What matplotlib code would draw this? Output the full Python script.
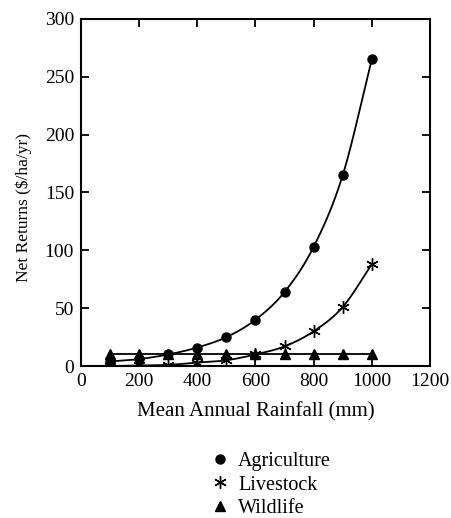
import numpy as np
import matplotlib
matplotlib.use('Agg')
import matplotlib.pyplot as plt

# Values
rainfall = [100, 200, 300, 400, 500, 600, 700, 800, 900, 1000]
agriculture = [4, 6, 10, 16, 25, 40, 64, 103, 165, 265]
livestock = [0, 0.5, 1, 3, 5, 10, 17, 30, 51, 88]
wildlife = [10, 10, 10, 10, 10, 10, 10, 10, 10, 10]

x_ticks = [0, 200, 400, 600, 800, 1000, 1200]
y_ticks = [0, 50, 100, 150, 200, 250, 300]


def smooth(x, y, n=20):
    """Hermite curve through the points (for the drawn line only)."""
    x = np.asarray(x, float)
    y = np.asarray(y, float)
    m = np.gradient(y, x)
    xs, ys = [], []
    for i in range(len(x) - 1):
        h = x[i + 1] - x[i]
        t = np.linspace(0, 1, n, endpoint=False)
        h00 = 2 * t**3 - 3 * t**2 + 1
        h10 = t**3 - 2 * t**2 + t
        h01 = -2 * t**3 + 3 * t**2
        h11 = t**3 - t**2
        xs.extend(x[i] + t * h)
        ys.extend(h00 * y[i] + h10 * h * m[i] + h01 * y[i + 1] + h11 * h * m[i + 1])
    xs.append(x[-1])
    ys.append(y[-1])
    return xs, ys


plt.rcParams['font.family'] = ['Liberation Serif', 'DejaVu Serif']
plt.rcParams['font.size'] = 14

fig = plt.figure(figsize=(4.51, 5.18), dpi=100)
ax = fig.add_axes([0.1796, 0.2934, 0.7738, 0.670])

series = [
    (agriculture, 'o', 'Agriculture', 6.5),
    (livestock, (6, 2, 0), 'Livestock', 9),
    (wildlife, '^', 'Wildlife', 6.5),
]
for vals, mk, name, ms in series:
    sx, sy = smooth(rainfall, vals)
    ax.plot(sx, sy, color='black', lw=1.3, zorder=2)
    ax.plot(rainfall, vals, linestyle='none', marker=mk, color='black',
            markersize=ms, markeredgewidth=1.0, label=name, zorder=3)

ax.set_xlim(0, 1200)
ax.set_ylim(0, 300)
ax.set_xticks(x_ticks)
ax.set_yticks(y_ticks)
ax.tick_params(direction='in', top=True, right=True, length=6, width=1.3,
               labelsize=14)
ax.tick_params(axis='y', pad=5)
ax.tick_params(axis='x', pad=5)
for sp in ax.spines.values():
    sp.set_linewidth(1.5)

ax.set_xlabel('Mean Annual Rainfall (mm)', fontsize=15, labelpad=9)
ax.set_ylabel('Net Returns ($/ha/yr)', fontsize=12.5)
ax.yaxis.set_label_coords(-0.14, 0.458)

fig.legend(loc='center', bbox_to_anchor=(0.6, 0.0638), frameon=False,
           handlelength=1.0, handletextpad=0.4, labelspacing=0.2,
           fontsize=14.5, borderpad=0)

fig.savefig('out.png', dpi=100)
